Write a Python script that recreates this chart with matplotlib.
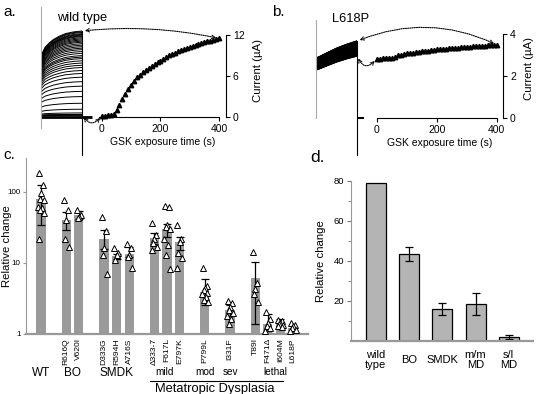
import numpy as np
import matplotlib
matplotlib.use('Agg')
import matplotlib.pyplot as plt

plt.rcParams['font.family'] = ['Liberation Sans', 'DejaVu Sans']

W, H = 537, 394

# panel a / b: GSK time course (s, uA)
times = np.arange(0, 401, 10)
a_vals = [0.2, 0.2, 0.25, 0.3, 0.5, 1.0, 1.8, 2.7, 3.4, 4.1, 4.7, 5.3, 5.8, 6.2,
          6.6, 6.9, 7.2, 7.5, 7.8, 8.0, 8.2, 8.5, 8.75, 9.0, 9.2, 9.4, 9.6, 9.8,
          10.0, 10.15, 10.3, 10.45, 10.6, 10.75, 10.85, 10.95, 11.05, 11.15,
          11.3, 11.4, 11.5]
b_vals = [2.82, 2.83, 2.84, 2.85, 2.86, 2.88, 2.93, 2.98, 3.02, 3.05, 3.08, 3.10,
          3.12, 3.14, 3.16, 3.18, 3.20, 3.21, 3.23, 3.25, 3.27, 3.28, 3.29, 3.31,
          3.32, 3.33, 3.34, 3.35, 3.36, 3.37, 3.39, 3.40, 3.41, 3.42, 3.43, 3.44,
          3.45, 3.46, 3.47, 3.48, 3.49]
# current sweep shape (fraction of final level along the sweep)
a_sweep_x = [0, 0.05, 0.1, 0.2, 0.3, 0.45, 0.6, 0.8, 1.0]
a_shape = [0.70, 0.76, 0.81, 0.86, 0.90, 0.94, 0.97, 0.99, 1.0]
b_sweep_x = [0, 0.1, 0.25, 0.5, 0.75, 1.0]
b_shape = [0.776, 0.80, 0.84, 0.905, 0.957, 1.0]

# panel c
c_labels = ['WT', 'R616Q', 'V620I', 'D333G', 'R594H', 'A716S', 'Δ333-7', 'F617L',
            'E797K', 'P799L', 'I331F', 'T89I', 'F471Δ', 'I604M', 'L618P']
c_mean = [80, 40, 47, 22, 12.5, 13.5, 22.5, 30, 20, 3.9, 2.2, 6.1, 1.4, 1.45, 1.2]
c_hi = [125, 52, 54, 29, 13.5, 17, 26.5, 35.5, 23, 5.9, 2.6, 10.3, 1.9, 1.6, 1.3]
c_lo = [34, 29, 42, 15.6, 11.5, 12, 18.6, 23, 15, 2.6, 1.8, 1.4, 1.1, 1.3, 1.1]
c_points = [
    [183, 125, 96, 80, 78, 62, 60, 55, 51, 22],
    [77, 55, 40, 22, 17],
    [56, 48, 44, 43],
    [45, 28, 16, 13, 7],
    [16, 14, 13, 11],
    [18.5, 16, 13, 12, 8.5],
    [36, 25, 22, 19, 16.5, 15],
    [63, 61, 34, 32, 30, 22, 18, 13, 8.2],
    [34, 22, 20, 14, 11.6, 8.5],
    [8.6, 4.7, 4.4, 4.1, 3.8, 3.6, 3.3, 3.0, 2.8],
    [2.9, 2.7, 2.4, 2.2, 2.0, 1.8, 1.6, 1.4],
    [14.4, 5.2, 4.3, 3.7, 2.8],
    [2.05, 1.6, 1.45, 1.3, 1.2, 1.1],
    [1.55, 1.5, 1.45, 1.4, 1.35, 1.3, 1.25],
    [1.45, 1.35, 1.3, 1.2, 1.15, 1.1],
]

# panel d
d_labels = ['wild\ntype', 'BO', 'SMDK', 'm/m\nMD', 's/l\nMD']
d_vals = [79, 43.5, 16, 18.6, 2]
d_err = [0, 3.6, 2.9, 5.4, 0.8]

fig = plt.figure(figsize=(W / 100, H / 100), dpi=100)


def box(x0, y0, x1, y1):
    return fig.add_axes([x0 / W, 1 - y1 / H, (x1 - x0) / W, (y1 - y0) / H])


def ftext(x, y, s, **kw):
    fig.text(x / W, 1 - y / H, s, **kw)


def clean(ax, keep=()):
    for k in ['top', 'bottom', 'left', 'right']:
        if k not in keep:
            ax.spines[k].set_visible(False)


def traces(ax, levels, sx, shape, ylim, down, lw):
    ax.set_xlim(0, 1)
    ax.set_ylim(*ylim)
    for lv in levels:
        ax.plot(sx, lv * np.array(shape), color='k', lw=lw)
    clean(ax, keep=('left',))
    ax.spines['left'].set_color('#aaaaaa')
    ax.set_xticks([])
    ax.set_yticks([])
    top = (max(levels) - ylim[0]) / (ylim[1] - ylim[0])
    ax.plot([1, 1], [top, down], color='k', lw=0.8,
            transform=ax.get_xaxis_transform(), clip_on=False)


def timecourse(ax, vals, xlim, ylim, yticks):
    ax.set_xlim(*xlim)
    ax.set_ylim(*ylim)
    ax.plot(times, vals, '^', color='k', ms=3.2, clip_on=False)
    clean(ax, keep=('bottom', 'right'))
    ax.spines['bottom'].set_bounds(max(xlim[0], -10), 400)
    ax.spines['right'].set_bounds(0, yticks[-1])
    ax.yaxis.tick_right()
    ax.yaxis.set_label_position('right')
    ax.set_yticks(yticks)
    ax.set_xticks([0, 200, 400])
    ax.tick_params(labelsize=7.5, length=3, width=0.8, pad=2)
    ax.set_xlabel('GSK exposure time (s)', fontsize=7.5, labelpad=2)
    ax.set_ylabel('Current (µA)', fontsize=8.2, labelpad=6)


def arrows(ax_from, xy_from, ax_to, xy_to, rad):
    ax_to.annotate('', xy=xy_from, xycoords=ax_from.transData,
                   xytext=xy_to, textcoords=ax_to.transData,
                   arrowprops=dict(arrowstyle='<->', linestyle=(0, (1, 1)),
                                   lw=0.8, color='k', mutation_scale=6,
                                   shrinkA=2, shrinkB=2,
                                   connectionstyle='arc3,rad=%g' % rad),
                   annotation_clip=False)


# ---- panel a
ta = box(41, 7, 82, 128)
traces(ta, a_vals, a_sweep_x, a_shape, (-1.52, 14.72), -0.22, 0.7)
ta.plot([0, 1.24], [0, 0], color='k', lw=2, clip_on=False, solid_capstyle='butt')
aa = box(99, 25, 226, 117)
timecourse(aa, a_vals, (-10, 424), (0, 13.46), [0, 6, 12])
arrows(ta, (1, a_vals[-1]), aa, (times[-1], a_vals[-1]), 0.08)
arrows(ta, (1, a_vals[0]), aa, (times[0], a_vals[0]), -0.7)
ftext(3, 12, 'a.', fontsize=11, va='center')
ftext(57, 18, 'wild type', fontsize=9.3, va='center')

# ---- panel b
tb = box(316, 20, 357, 118)
traces(tb, b_vals, b_sweep_x, b_shape, (0, 4.45), -0.38, 1.2)
tb.plot([1, 1.18], [0, 0], color='k', lw=1.5, clip_on=False, solid_capstyle='butt')
ab = box(376.7, 20, 503, 118)
timecourse(ab, b_vals, (0, 421), (0, 4.67), [0, 2, 4])
arrows(tb, (1, b_vals[-1]), ab, (times[-1], b_vals[-1]), 0.22)
arrows(tb, (1, b_vals[0]), ab, (times[0], b_vals[0]), -0.8)
ftext(272, 12, 'b.', fontsize=11, va='center')
ftext(332, 19, 'L618P', fontsize=9.3, va='center')

# ---- panel c
c_pos = [0, 2, 3, 5, 6, 7, 9, 10, 11, 13, 15, 17, 18, 19, 20]
ac = box(26, 158, 308, 334)
ac.set_yscale('log')
ac.set_ylim(1, 300)
ac.set_xlim(-1.19, 21.19)
mean = np.array(c_mean)
ac.bar(c_pos, mean - 1, bottom=1, width=0.72, color='#9a9a9a', zorder=1)
ac.errorbar(c_pos, mean, yerr=[mean - np.array(c_lo), np.array(c_hi) - mean],
            fmt='none', ecolor='k', elinewidth=0.9, capsize=3, capthick=0.9, zorder=2)
jit = [-0.18, 0.15, 0.0, -0.1, 0.2, -0.22, 0.1, -0.05, 0.22, -0.15]
for p, pts in zip(c_pos, c_points):
    xs = [p + jit[i % len(jit)] for i in range(len(pts))]
    ac.plot(xs, pts, '^', mfc='white', mec='k', mew=0.7, ms=4, ls='none', zorder=3)
clean(ac, keep=('left', 'bottom'))
ac.spines['left'].set_color('#999999')
ac.spines['bottom'].set_color('#999999')
ac.spines['bottom'].set_linewidth(1.6)
ac.set_yticks([1, 10, 100])
ac.set_yticklabels(['1', '10', '100'])
ac.yaxis.set_minor_locator(matplotlib.ticker.NullLocator())
ac.tick_params(axis='y', labelsize=5.8, length=2.5, color='#999999', pad=1.5)
ac.set_xticks(c_pos)
ac.set_xticklabels([''] + c_labels[1:], rotation=90, fontsize=6.1, va='top')
ac.tick_params(axis='x', length=0, pad=3)
ac.set_ylabel('Relative change', fontsize=8.2)
ac.yaxis.set_label_coords(-0.05, 0.5)
tr = ac.get_xaxis_transform()
for x, s in [(0, 'WT'), (2.5, 'BO'), (6, 'SMDK')]:
    ac.text(x, -0.222, s, transform=tr, ha='center', va='center', fontsize=8.5)
for x, s in [(9.8, 'mild'), (13, 'mod'), (15, 'sev'), (18.6, 'lethal')]:
    ac.text(x, -0.218, s, transform=tr, ha='center', va='center', fontsize=7.2)
ac.plot([8.65, 19.2], [-0.265, -0.265], color='k', lw=0.8, transform=tr, clip_on=False)
ac.text(13.8, -0.31, 'Metatropic Dysplasia', transform=tr, ha='center', va='center',
        fontsize=9.3)
ftext(3, 155, 'c.', fontsize=11, va='center')

# ---- panel d
ad = box(351, 181, 533, 341)
dx = np.arange(len(d_vals))
ad.bar(dx, d_vals, width=0.6, color='#b4b4b4', edgecolor='k', lw=0.9, zorder=1)
ad.errorbar(dx[1:], d_vals[1:], yerr=d_err[1:], fmt='none', ecolor='k',
            elinewidth=0.9, capsize=3, capthick=0.9, zorder=2)
ad.set_ylim(0, 80)
ad.set_xlim(-0.75, 4.73)
clean(ad, keep=('left', 'bottom'))
ad.spines['left'].set_color('#999999')
ad.spines['bottom'].set_color('#999999')
ad.spines['bottom'].set_linewidth(1.6)
ad.set_yticks([20, 40, 60, 80])
ad.set_yticks([10, 30, 50, 70], minor=True)
ad.tick_params(axis='y', which='both', labelsize=6.8, color='#777777', pad=2)
ad.tick_params(axis='y', which='major', length=3)
ad.tick_params(axis='y', which='minor', length=2)
ad.set_xticks(dx)
ad.set_xticklabels(d_labels, fontsize=8, va='center', linespacing=1.0)
ad.tick_params(axis='x', length=0, pad=13.5)
ad.set_ylabel('Relative change', fontsize=8.2, labelpad=5)
ftext(310, 158, 'd.', fontsize=12.5, va='center')

fig.savefig('out.png', dpi=100)
